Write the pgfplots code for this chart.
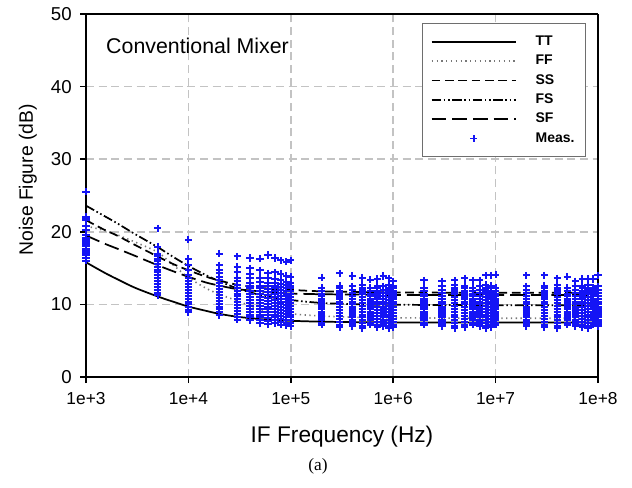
\documentclass[border=0pt]{standalone}
\usepackage{fontspec}
\setmainfont{Liberation Sans}
\newfontfamily\capfont{Liberation Serif}
\usepackage{pgfplots}
\pgfplotsset{compat=1.18}

\definecolor{gridgray}{RGB}{195,195,195}
\definecolor{measblue}{RGB}{20,20,245}
\definecolor{ffgray}{RGB}{120,120,120}

\pgfplotsset{
  measlegend/.style={legend image code/.code={%
    \draw[mark repeat=2,mark phase=2,##1] plot coordinates {(0pt,0pt) (31.5pt,0pt) (63pt,0pt)};}},
}

\begin{document}
\begin{tikzpicture}
\path[use as bounding box] (-64.5pt,-82.5pt) rectangle (409.5pt,282.75pt);
\begin{axis}[
  at={(0,0)}, anchor=south west,
  width=384pt, height=272.25pt, scale only axis,
  xmode=log, xmin=1e3, xmax=1e8, ymin=0, ymax=50,
  xtick={1e3,1e4,1e5,1e6,1e7,1e8},
  xticklabels={1e+3,1e+4,1e+5,1e+6,1e+7,1e+8},
  xminorticks=false,
  ytick={0,10,20,30,40,50},
  /pgf/number format/assume math mode=true,
  tick align=outside, xtick pos=bottom, ytick pos=left,
  major tick length=4.5pt,
  every tick/.style={black, line width=1.2pt},
  separate axis lines,
  axis line style={black, line width=2.1pt},
  grid=major,
  major grid style={gridgray, line width=1.3pt, dash pattern=on 6pt off 3.5pt},
  xticklabel style={font=\fontsize{13}{15}\selectfont, inner sep=0pt, yshift=-7pt},
  yticklabel style={font=\fontsize{14}{16}\selectfont, inner sep=0pt, xshift=-6pt},
  xlabel={IF Frequency (Hz)},
  ylabel={Noise Figure (dB)},
  every axis x label/.style={at={(axis description cs:0.5,-0.1653)}, anchor=center, font=\fontsize{17}{20}\selectfont},
  every axis y label/.style={at={(axis description cs:-0.1133,0.543)}, rotate=90, anchor=center, font=\fontsize{14.5}{17}\selectfont},
  clip=false,
  legend image code/.code={\draw[#1] (0pt,0pt) -- (63pt,0pt);},
  legend cell align=left,
  legend style={at={(1,1)}, anchor=north east, xshift=-9pt, yshift=-6.75pt,
    draw={rgb,255:red,110;green,110;blue,110}, line width=0.6pt, fill=white,
    inner xsep=6pt, inner ysep=6.5pt,
    font=\bfseries\fontsize{10.5}{12}\selectfont,
    row sep=0pt, column sep=0pt,
    /tikz/every odd column/.append style={column sep=14.25pt},
    nodes={inner sep=0pt, minimum height=14.5pt, text width=31.5pt, align=left}},
]

% measured noise figure, grouped by IF frequency
\addplot[forget plot, only marks, mark=+, color=measblue,
         mark options={solid, draw=measblue}, mark size=2.7pt, line width=1.5pt] coordinates {
(1e3,16.0)(1e3,16.4)(1e3,16.8)(1e3,17.1)(1e3,17.4)(1e3,17.7)(1e3,18.0)(1e3,18.3)(1e3,18.6)(1e3,18.9)(1e3,19.2)(1e3,19.5)(1e3,20.2)(1e3,20.8)(1e3,21.6)(1e3,21.9)(1e3,22.1)(1e3,25.5)
(5e3,11.3)(5e3,11.6)(5e3,12.0)(5e3,12.4)(5e3,12.8)(5e3,13.2)(5e3,13.6)(5e3,14.0)(5e3,14.4)(5e3,14.8)(5e3,15.2)(5e3,15.6)(5e3,16.0)(5e3,16.3)(5e3,16.6)(5e3,17.0)(5e3,17.9)(5e3,20.5)
(1e4,8.9)(1e4,9.2)(1e4,9.6)(1e4,10.0)(1e4,10.4)(1e4,10.8)(1e4,11.2)(1e4,11.6)(1e4,12.0)(1e4,12.4)(1e4,12.8)(1e4,13.2)(1e4,13.6)(1e4,14.1)(1e4,14.7)(1e4,15.4)(1e4,16.3)(1e4,18.9)
(2e4,8.5)(2e4,8.9)(2e4,9.3)(2e4,9.7)(2e4,10.1)(2e4,10.5)(2e4,10.9)(2e4,11.3)(2e4,11.7)(2e4,12.1)(2e4,12.5)(2e4,12.9)(2e4,13.3)(2e4,13.8)(2e4,14.3)(2e4,14.8)(2e4,15.4)(2e4,17.0)
(3e4,7.9)(3e4,8.3)(3e4,8.7)(3e4,9.1)(3e4,9.5)(3e4,9.9)(3e4,10.3)(3e4,10.7)(3e4,11.1)(3e4,11.5)(3e4,11.9)(3e4,12.3)(3e4,12.7)(3e4,13.2)(3e4,13.7)(3e4,14.4)(3e4,15.2)(3e4,16.6)
(4e4,7.8)(4e4,8.2)(4e4,8.6)(4e4,9.0)(4e4,9.4)(4e4,9.8)(4e4,10.2)(4e4,10.6)(4e4,11.0)(4e4,11.4)(4e4,11.8)(4e4,12.2)(4e4,12.6)(4e4,13.0)(4e4,13.6)(4e4,14.2)(4e4,15.0)(4e4,16.4)
(5e4,7.4)(5e4,7.8)(5e4,8.2)(5e4,8.6)(5e4,9.0)(5e4,9.4)(5e4,9.8)(5e4,10.2)(5e4,10.6)(5e4,11.0)(5e4,11.4)(5e4,11.8)(5e4,12.2)(5e4,12.6)(5e4,13.1)(5e4,13.7)(5e4,14.7)(5e4,16.3)
(6e4,7.3)(6e4,7.7)(6e4,8.1)(6e4,8.5)(6e4,8.9)(6e4,9.3)(6e4,9.7)(6e4,10.1)(6e4,10.5)(6e4,10.9)(6e4,11.3)(6e4,11.7)(6e4,12.1)(6e4,12.5)(6e4,13.0)(6e4,13.6)(6e4,14.3)(6e4,16.8)
(7e4,7.4)(7e4,7.8)(7e4,8.2)(7e4,8.6)(7e4,9.0)(7e4,9.4)(7e4,9.8)(7e4,10.2)(7e4,10.6)(7e4,11.0)(7e4,11.4)(7e4,11.8)(7e4,12.2)(7e4,12.6)(7e4,13.0)(7e4,13.5)(7e4,14.4)(7e4,16.4)
(8e4,7.2)(8e4,7.6)(8e4,8.0)(8e4,8.4)(8e4,8.8)(8e4,9.2)(8e4,9.6)(8e4,10.0)(8e4,10.4)(8e4,10.8)(8e4,11.2)(8e4,11.6)(8e4,12.0)(8e4,12.4)(8e4,12.8)(8e4,13.3)(8e4,14.2)(8e4,16.1)
(9e4,7.1)(9e4,7.5)(9e4,7.9)(9e4,8.3)(9e4,8.7)(9e4,9.1)(9e4,9.5)(9e4,9.9)(9e4,10.3)(9e4,10.7)(9e4,11.1)(9e4,11.5)(9e4,11.9)(9e4,12.3)(9e4,12.7)(9e4,13.1)(9e4,13.9)(9e4,15.9)
(1e5,7.0)(1e5,7.4)(1e5,7.8)(1e5,8.2)(1e5,8.6)(1e5,9.0)(1e5,9.4)(1e5,9.8)(1e5,10.2)(1e5,10.6)(1e5,11.0)(1e5,11.4)(1e5,11.8)(1e5,12.2)(1e5,12.6)(1e5,13.0)(1e5,13.8)(1e5,16.1)
(2e5,7.2)(2e5,7.5)(2e5,7.8)(2e5,8.1)(2e5,8.4)(2e5,8.7)(2e5,9.0)(2e5,9.3)(2e5,9.6)(2e5,9.9)(2e5,10.2)(2e5,10.5)(2e5,10.8)(2e5,11.1)(2e5,11.4)(2e5,11.8)(2e5,12.3)(2e5,13.7)
(3e5,6.9)(3e5,7.2)(3e5,7.6)(3e5,8.0)(3e5,8.4)(3e5,8.8)(3e5,9.2)(3e5,9.6)(3e5,10.0)(3e5,10.4)(3e5,10.7)(3e5,11.0)(3e5,11.3)(3e5,11.6)(3e5,11.9)(3e5,12.2)(3e5,12.6)(3e5,14.3)
(4e5,7.0)(4e5,7.3)(4e5,7.6)(4e5,7.9)(4e5,8.2)(4e5,8.5)(4e5,8.8)(4e5,9.1)(4e5,9.4)(4e5,9.7)(4e5,10.0)(4e5,10.4)(4e5,10.8)(4e5,11.2)(4e5,11.6)(4e5,12.0)(4e5,12.5)(4e5,13.9)
(5e5,6.7)(5e5,7.0)(5e5,7.4)(5e5,7.8)(5e5,8.2)(5e5,8.6)(5e5,9.0)(5e5,9.4)(5e5,9.8)(5e5,10.2)(5e5,10.6)(5e5,11.0)(5e5,11.4)(5e5,11.7)(5e5,12.0)(5e5,12.3)(5e5,12.7)(5e5,13.7)
(6e5,7.2)(6e5,7.5)(6e5,7.8)(6e5,8.1)(6e5,8.4)(6e5,8.7)(6e5,9.0)(6e5,9.3)(6e5,9.6)(6e5,9.9)(6e5,10.2)(6e5,10.5)(6e5,10.8)(6e5,11.1)(6e5,11.4)(6e5,11.8)(6e5,12.3)(6e5,13.4)
(7e5,6.9)(7e5,7.2)(7e5,7.6)(7e5,8.0)(7e5,8.4)(7e5,8.8)(7e5,9.2)(7e5,9.6)(7e5,10.0)(7e5,10.4)(7e5,10.7)(7e5,11.0)(7e5,11.3)(7e5,11.6)(7e5,11.9)(7e5,12.2)(7e5,12.6)(7e5,13.5)
(8e5,7.0)(8e5,7.3)(8e5,7.6)(8e5,7.9)(8e5,8.2)(8e5,8.5)(8e5,8.8)(8e5,9.1)(8e5,9.4)(8e5,9.7)(8e5,10.0)(8e5,10.4)(8e5,10.8)(8e5,11.2)(8e5,11.6)(8e5,12.0)(8e5,12.5)(8e5,13.9)
(9e5,6.7)(9e5,7.0)(9e5,7.4)(9e5,7.8)(9e5,8.2)(9e5,8.6)(9e5,9.0)(9e5,9.4)(9e5,9.8)(9e5,10.2)(9e5,10.6)(9e5,11.0)(9e5,11.4)(9e5,11.7)(9e5,12.0)(9e5,12.3)(9e5,12.7)(9e5,13.6)
(1e6,6.9)(1e6,7.2)(1e6,7.6)(1e6,8.0)(1e6,8.4)(1e6,8.8)(1e6,9.2)(1e6,9.6)(1e6,10.0)(1e6,10.4)(1e6,10.7)(1e6,11.0)(1e6,11.3)(1e6,11.6)(1e6,11.9)(1e6,12.2)(1e6,12.6)(1e6,13.2)
(2e6,7.2)(2e6,7.5)(2e6,7.8)(2e6,8.1)(2e6,8.4)(2e6,8.7)(2e6,9.0)(2e6,9.3)(2e6,9.6)(2e6,9.9)(2e6,10.2)(2e6,10.5)(2e6,10.8)(2e6,11.1)(2e6,11.4)(2e6,11.8)(2e6,12.3)(2e6,13.3)
(3e6,7.0)(3e6,7.3)(3e6,7.6)(3e6,7.9)(3e6,8.2)(3e6,8.5)(3e6,8.8)(3e6,9.1)(3e6,9.4)(3e6,9.7)(3e6,10.0)(3e6,10.4)(3e6,10.8)(3e6,11.2)(3e6,11.6)(3e6,12.0)(3e6,12.5)(3e6,13.2)
(4e6,6.7)(4e6,7.0)(4e6,7.4)(4e6,7.8)(4e6,8.2)(4e6,8.6)(4e6,9.0)(4e6,9.4)(4e6,9.8)(4e6,10.2)(4e6,10.6)(4e6,11.0)(4e6,11.4)(4e6,11.7)(4e6,12.0)(4e6,12.3)(4e6,12.7)(4e6,13.3)
(5e6,6.9)(5e6,7.2)(5e6,7.6)(5e6,8.0)(5e6,8.4)(5e6,8.8)(5e6,9.2)(5e6,9.6)(5e6,10.0)(5e6,10.4)(5e6,10.7)(5e6,11.0)(5e6,11.3)(5e6,11.6)(5e6,11.9)(5e6,12.2)(5e6,12.6)(5e6,13.6)
(6e6,7.2)(6e6,7.5)(6e6,7.8)(6e6,8.1)(6e6,8.4)(6e6,8.7)(6e6,9.0)(6e6,9.3)(6e6,9.6)(6e6,9.9)(6e6,10.2)(6e6,10.5)(6e6,10.8)(6e6,11.1)(6e6,11.4)(6e6,11.8)(6e6,12.3)(6e6,13.3)
(7e6,7.0)(7e6,7.3)(7e6,7.6)(7e6,7.9)(7e6,8.2)(7e6,8.5)(7e6,8.8)(7e6,9.1)(7e6,9.4)(7e6,9.7)(7e6,10.0)(7e6,10.4)(7e6,10.8)(7e6,11.2)(7e6,11.6)(7e6,12.0)(7e6,12.5)(7e6,13.3)
(8e6,6.7)(8e6,7.0)(8e6,7.4)(8e6,7.8)(8e6,8.2)(8e6,8.6)(8e6,9.0)(8e6,9.4)(8e6,9.8)(8e6,10.2)(8e6,10.6)(8e6,11.0)(8e6,11.4)(8e6,11.7)(8e6,12.0)(8e6,12.3)(8e6,12.7)(8e6,14.0)
(9e6,6.9)(9e6,7.2)(9e6,7.6)(9e6,8.0)(9e6,8.4)(9e6,8.8)(9e6,9.2)(9e6,9.6)(9e6,10.0)(9e6,10.4)(9e6,10.7)(9e6,11.0)(9e6,11.3)(9e6,11.6)(9e6,11.9)(9e6,12.2)(9e6,12.6)(9e6,14.0)
(1e7,7.2)(1e7,7.5)(1e7,7.8)(1e7,8.1)(1e7,8.4)(1e7,8.7)(1e7,9.0)(1e7,9.3)(1e7,9.6)(1e7,9.9)(1e7,10.2)(1e7,10.5)(1e7,10.8)(1e7,11.1)(1e7,11.4)(1e7,11.8)(1e7,12.3)(1e7,14.1)
(2e7,7.0)(2e7,7.3)(2e7,7.6)(2e7,7.9)(2e7,8.2)(2e7,8.5)(2e7,8.8)(2e7,9.1)(2e7,9.4)(2e7,9.7)(2e7,10.0)(2e7,10.4)(2e7,10.8)(2e7,11.2)(2e7,11.6)(2e7,12.0)(2e7,12.5)(2e7,14.0)
(3e7,6.9)(3e7,7.2)(3e7,7.6)(3e7,8.0)(3e7,8.4)(3e7,8.8)(3e7,9.2)(3e7,9.6)(3e7,10.0)(3e7,10.4)(3e7,10.7)(3e7,11.0)(3e7,11.3)(3e7,11.6)(3e7,11.9)(3e7,12.2)(3e7,12.6)(3e7,14.0)
(4e7,6.7)(4e7,7.0)(4e7,7.4)(4e7,7.8)(4e7,8.2)(4e7,8.6)(4e7,9.0)(4e7,9.4)(4e7,9.8)(4e7,10.2)(4e7,10.6)(4e7,11.0)(4e7,11.4)(4e7,11.7)(4e7,12.0)(4e7,12.3)(4e7,12.7)(4e7,13.6)
(5e7,7.2)(5e7,7.5)(5e7,7.8)(5e7,8.1)(5e7,8.4)(5e7,8.7)(5e7,9.0)(5e7,9.3)(5e7,9.6)(5e7,9.9)(5e7,10.2)(5e7,10.5)(5e7,10.8)(5e7,11.1)(5e7,11.4)(5e7,11.8)(5e7,12.3)(5e7,13.8)
(6e7,7.0)(6e7,7.3)(6e7,7.6)(6e7,7.9)(6e7,8.2)(6e7,8.5)(6e7,8.8)(6e7,9.1)(6e7,9.4)(6e7,9.7)(6e7,10.0)(6e7,10.4)(6e7,10.8)(6e7,11.2)(6e7,11.6)(6e7,12.0)(6e7,12.5)(6e7,13.2)
(7e7,6.9)(7e7,7.2)(7e7,7.6)(7e7,8.0)(7e7,8.4)(7e7,8.8)(7e7,9.2)(7e7,9.6)(7e7,10.0)(7e7,10.4)(7e7,10.7)(7e7,11.0)(7e7,11.3)(7e7,11.6)(7e7,11.9)(7e7,12.2)(7e7,12.6)(7e7,13.5)
(8e7,6.7)(8e7,7.0)(8e7,7.4)(8e7,7.8)(8e7,8.2)(8e7,8.6)(8e7,9.0)(8e7,9.4)(8e7,9.8)(8e7,10.2)(8e7,10.6)(8e7,11.0)(8e7,11.4)(8e7,11.7)(8e7,12.0)(8e7,12.3)(8e7,12.7)(8e7,13.5)
(9e7,7.2)(9e7,7.5)(9e7,7.8)(9e7,8.1)(9e7,8.4)(9e7,8.7)(9e7,9.0)(9e7,9.3)(9e7,9.6)(9e7,9.9)(9e7,10.2)(9e7,10.5)(9e7,10.8)(9e7,11.1)(9e7,11.4)(9e7,11.8)(9e7,12.3)(9e7,13.5)
(1e8,7.0)(1e8,7.3)(1e8,7.6)(1e8,7.9)(1e8,8.2)(1e8,8.5)(1e8,8.8)(1e8,9.1)(1e8,9.4)(1e8,9.7)(1e8,10.0)(1e8,10.4)(1e8,10.8)(1e8,11.2)(1e8,11.6)(1e8,12.0)(1e8,12.5)(1e8,14.0)
};

% simulated corners
\addplot[black, line width=1.3pt, smooth] coordinates {
 (1e3,15.8) (1.5e3,14.4) (2e3,13.5) (3e3,12.3) (5e3,11.1) (7e3,10.4) (1e4,9.7)
 (1.5e4,9.1) (2e4,8.7) (3e4,8.3) (5e4,7.98) (7e4,7.84) (1e5,7.74) (2e5,7.62)
 (5e5,7.55) (1e6,7.52) (1e7,7.5) (1e8,7.5)};
\addlegendentry{TT}

\addplot[ffgray, line width=1.2pt, dash pattern=on 1pt off 2.6pt, smooth] coordinates {
 (1e3,20.8) (1.5e3,20.2) (2e3,19.6) (3e3,18.6) (5e3,17.2) (7e3,15.5) (1e4,13.7)
 (1.5e4,12.2) (2e4,11.4) (3e4,10.5) (5e4,9.3) (7e4,8.9) (1e5,8.7) (2e5,8.4)
 (5e5,8.2) (1e6,8.15) (1e7,8.1) (1e8,8.1)};
\addlegendentry{FF}

\addplot[black, line width=1.3pt, dash pattern=on 6.5pt off 3.5pt, smooth] coordinates {
 (1e3,21.6) (1.5e3,20.3) (2e3,19.5) (3e3,18.2) (5e3,16.6) (7e3,15.6) (1e4,14.7)
 (1.5e4,13.8) (2e4,13.3) (3e4,12.7) (5e4,12.3) (7e4,12.1) (1e5,12.0) (2e5,11.8)
 (5e5,11.7) (1e6,11.65) (1e7,11.6) (1e8,11.6)};
\addlegendentry{SS}

\addplot[black, line width=1.3pt, dash pattern=on 7pt off 2pt on 1.2pt off 2pt on 1.2pt off 2pt, smooth] coordinates {
 (1e3,23.6) (1.5e3,22.2) (2e3,21.2) (3e3,19.7) (5e3,17.9) (7e3,16.6) (1e4,15.3)
 (1.5e4,14.0) (2e4,13.2) (3e4,12.2) (5e4,11.3) (7e4,10.9) (1e5,10.6) (2e5,10.2)
 (5e5,10.0) (1e6,9.95) (1e7,9.9) (1e8,9.9)};
\addlegendentry{FS}

\addplot[black, line width=1.3pt, dash pattern=on 11pt off 4.5pt, smooth] coordinates {
 (1e3,19.5) (1.5e3,18.4) (2e3,17.7) (3e3,16.7) (5e3,15.4) (7e3,14.6) (1e4,13.8)
 (1.5e4,13.0) (2e4,12.6) (3e4,12.1) (5e4,11.8) (7e4,11.6) (1e5,11.5) (2e5,11.4)
 (5e5,11.35) (1e6,11.3) (1e7,11.3) (1e8,11.3)};
\addlegendentry{SF}

\addlegendimage{only marks, mark=+, color=measblue, mark options={solid, draw=measblue}, mark size=2.5pt, line width=1.3pt, measlegend}
\addlegendentry{Meas.}

\node[anchor=west, inner sep=0pt, font=\fontsize{16}{19}\selectfont]
  at (axis description cs:0.039,0.9118) {Conventional Mixer};
\node[anchor=center, inner sep=0pt, font=\capfont\fontsize{13}{15}\selectfont]
  at (axis description cs:0.453,-0.2452) {(a)};
\end{axis}
\end{tikzpicture}
\end{document}
